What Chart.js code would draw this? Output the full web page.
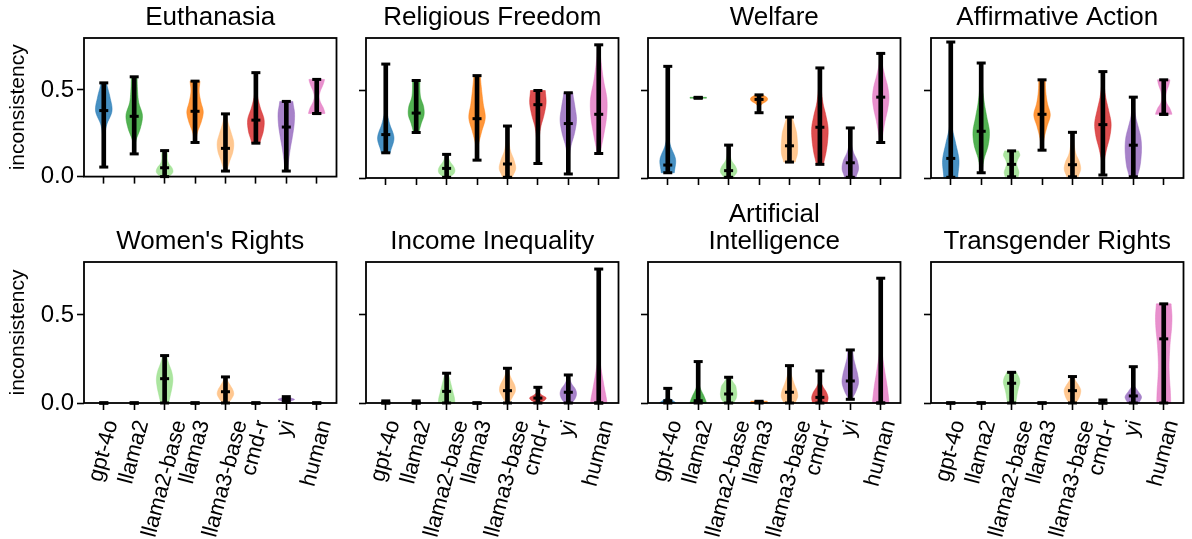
<!DOCTYPE html>
<html>
<head>
<meta charset="utf-8">
<script src="https://cdn.jsdelivr.net/npm/chart.js@4.4.1/dist/chart.umd.min.js"></script>
<style>
    body { margin: 0; background: #fff; }
    #fig { position: relative; width: 1192px; height: 539px; overflow: hidden; background: #fff; }
    #fig canvas { position: absolute; }
</style>
</head>
<body>
<div id="fig"></div>
<script>
const models = ['gpt-4o', 'llama2', 'llama2-base', 'llama3', 'llama3-base', 'cmd-r', 'yi', 'human'];
const topics = ['Euthanasia', 'Religious Freedom', 'Welfare', 'Affirmative Action',
    "Women's Rights", 'Income Inequality', ['Artificial', 'Intelligence'], 'Transgender Rights'];
const yTicks = [0, 0.5];

// one row per topic, one value per model
const lows = [
    [0.055, 0.131, 0.0, 0.197, 0.032, 0.193, 0.032, 0.364],
    [0.144, 0.26, 0.004, 0.102, 0.004, 0.083, 0.023, 0.14],
    [0.03, 0.456, 0.004, 0.373, 0.091, 0.078, 0.004, 0.203],
    [0.004, 0.03, 0.007, 0.159, 0.007, 0.017, 0.007, 0.364],
    [0, 0, 0, 0, 0, 0, 0.004, 0],
    [0, 0, 0, 0, 0, 0, 0, 0],
    [0, 0, 0, 0, 0, 0, 0.021, 0],
    [0, 0, 0, 0, 0, 0, 0, 0]
];
const highs = [
    [0.541, 0.576, 0.15, 0.551, 0.362, 0.60, 0.434, 0.561],
    [0.651, 0.557, 0.135, 0.585, 0.297, 0.5, 0.487, 0.761],
    [0.638, 0.461, 0.188, 0.475, 0.348, 0.629, 0.286, 0.712],
    [0.777, 0.657, 0.155, 0.561, 0.261, 0.608, 0.462, 0.561],
    [0, 0, 0.269, 0, 0.148, 0, 0.036, 0],
    [0.012, 0.012, 0.169, 0, 0.197, 0.089, 0.159, 0.76],
    [0.083, 0.235, 0.146, 0.01, 0.212, 0.182, 0.301, 0.708],
    [0, 0, 0.174, 0, 0.15, 0.017, 0.206, 0.5625]
];
const medians = [
    [0.381, 0.348, 0.051, 0.377, 0.163, 0.326, 0.286, 0.364],
    [0.248, 0.371, 0.055, 0.339, 0.08, 0.419, 0.311, 0.364],
    [0.074, 0.458, 0.042, 0.449, 0.184, 0.29, 0.087, 0.462],
    [0.112, 0.267, 0.078, 0.364, 0.076, 0.305, 0.1875, 0.364],
    [0, 0, 0.138, 0, 0.064, 0, 0.02, 0],
    [0, 0, 0.066, 0, 0.07, 0.028, 0.061, 0],
    [0.013, 0.013, 0.051, 0.005, 0.061, 0.032, 0.125, 0],
    [0, 0, 0.112, 0, 0.07, 0, 0.04, 0.364]
];
// relative violin widths, evenly spaced from low to high
const density = [
    [[0.03, 0.05, 0.1, 0.35, 1.0, 0.75, 0.35], [0.05, 0.2, 0.75, 1.0, 0.55, 0.4, 0.35], [0.6, 1.0, 0.9, 0.5, 0.35, 0.35, 0.3],
     [0.1, 0.3, 0.75, 1.0, 0.7, 0.5, 0.6], [0.2, 0.5, 0.9, 1.0, 0.7, 0.35, 0.15], [0.5, 0.9, 1.0, 0.55, 0.2, 0.12, 0.12],
     [0.15, 0.3, 0.5, 0.75, 0.95, 1.0, 0.8], [1.0, 0.8, 0.45, 0.3, 0.45, 0.75, 0.95]],
    [[0.55, 1.0, 0.45, 0.06, 0.02, 0.02, 0.02], [0.35, 0.6, 0.95, 0.9, 0.55, 0.45, 0.45], [0.4, 0.9, 1.0, 0.8, 0.45, 0.25, 0.15],
     [0.05, 0.15, 0.55, 1.0, 0.75, 0.55, 0.4], [0.6, 1.0, 0.8, 0.4, 0.2, 0.1, 0.08], [0.05, 0.08, 0.15, 0.35, 0.75, 1.0, 0.9],
     [0.03, 0.08, 0.3, 0.75, 1.0, 0.8, 0.55], [0.2, 0.6, 0.95, 1.0, 0.6, 0.3, 0.1]],
    [[0.8, 0.95, 0.35, 0.03, 0.02, 0.02, 0.02, 0.02, 0.02], [1, 1], [0.6, 1.0, 0.85, 0.4, 0.2, 0.1, 0.05],
     [0.05, 0.08, 0.12, 0.4, 0.95, 1.0, 0.5], [0.7, 0.95, 1.0, 0.95, 0.85, 0.6, 0.35],
     [0.45, 0.75, 0.95, 1.0, 0.75, 0.4, 0.2, 0.1, 0.05], [0.7, 1.0, 0.85, 0.4, 0.15, 0.08, 0.05],
     [0.1, 0.3, 0.55, 0.85, 1.0, 0.85, 0.5, 0.2, 0.05]],
    [[0.85, 1.0, 0.6, 0.15, 0.03, 0.02, 0.02, 0.02, 0.02], [0.1, 0.35, 0.85, 1.0, 0.7, 0.4, 0.2, 0.1, 0.05],
     [0.8, 0.9, 0.75, 0.6, 0.75, 1.0, 0.85], [0.1, 0.25, 0.6, 1.0, 0.65, 0.45, 0.4], [0.7, 1.0, 0.85, 0.45, 0.25, 0.12, 0.06],
     [0.05, 0.15, 0.45, 0.85, 1.0, 0.7, 0.35, 0.15, 0.08], [0.5, 0.8, 0.95, 1.0, 0.9, 0.6, 0.3, 0.15, 0.08],
     [1.0, 0.75, 0.35, 0.25, 0.35, 0.6, 0.75]],
    [[], [], [0.5, 0.7, 0.9, 1.0, 0.85, 0.5, 0.25], [], [0.4, 0.75, 1.0, 0.9, 0.6, 0.3, 0.15], [],
     [0.2, 0.6, 1.0, 0.6, 0.2], []],
    [[], [], [1.0, 0.95, 0.8, 0.65, 0.5, 0.35, 0.2], [], [0.25, 0.6, 0.95, 0.9, 0.55, 0.25, 0.1],
     [0.3, 0.8, 1.0, 0.5, 0.15, 0.08, 0.05], [0.5, 0.85, 1.0, 0.85, 0.45, 0.2, 0.1],
     [1.0, 0.65, 0.3, 0.03, 0.02, 0.02, 0.02, 0.02, 0.02]],
    [[1.0, 0.6, 0.2, 0.06, 0.03, 0.02, 0.02], [1.0, 0.7, 0.3, 0.06, 0.02, 0.02, 0.02], [0.6, 0.9, 1.0, 0.95, 0.85, 0.5, 0.25],
     [1, 1], [0.7, 1.0, 0.9, 0.6, 0.35, 0.15, 0.05], [0.9, 1.0, 0.8, 0.4, 0.12, 0.04, 0.02],
     [0.25, 0.7, 1.0, 0.9, 0.65, 0.4, 0.3], [1.0, 0.8, 0.5, 0.22, 0.03, 0.02, 0.02, 0.02, 0.02]],
    [[], [], [0.5, 0.6, 0.7, 0.85, 1.0, 0.9, 0.6], [], [0.45, 0.75, 0.95, 1.0, 0.75, 0.4, 0.2], [],
     [0.7, 1.0, 0.55, 0.08, 0.03, 0.02, 0.02], [0.85, 0.8, 0.7, 0.65, 0.7, 0.8, 0.95, 1.0, 0.9]]
];

const colors = ['#1f77b4', '#2ca02c', '#98df8a', '#ff7f0e', '#ffbb78', '#d62728', '#9467bd', '#e377c2'];
const FONT = '"Liberation Sans", Arial, Helvetica, sans-serif';
Chart.defaults.font.family = FONT;
Chart.defaults.color = '#000';

function rgba(hex, a) {
    let n = parseInt(hex.slice(1), 16);
    return `rgba(${n >> 16},${(n >> 8) & 255},${n & 255},${a})`;
}

// catmull-rom upsampling of the width profile
function smooth(p, steps) {
    if (p.length < 3) return p.slice();
    let out = [];
    for (let k = 0; k < p.length - 1; k++) {
        let p0 = p[Math.max(k - 1, 0)], p1 = p[k], p2 = p[k + 1], p3 = p[Math.min(k + 2, p.length - 1)];
        for (let s = 0; s < steps; s++) {
            let t = s / steps;
            let v = 0.5 * ((2 * p1) + (-p0 + p2) * t + (2 * p0 - 5 * p1 + 4 * p2 - p3) * t * t + (-p0 + 3 * p1 - 3 * p2 + p3) * t * t * t);
            out.push(Math.max(v, 0.01));
        }
    }
    out.push(p[p.length - 1]);
    return out;
}

const violinPlugin = {
    id: 'violins',
    beforeDatasetsDraw(chart, args, opts) {
        let t = opts.topic, xs = chart.scales.x, ys = chart.scales.y, ctx = chart.ctx;
        models.forEach(function (m, i) {
            let d = density[t][i];
            if (!d.length) return;
            let lo = lows[t][i], hi = highs[t][i];
            let w = smooth(d, 8);
            let cx = xs.getPixelForValue(i + 1);
            let hw = xs.getPixelForValue(i + 1 + 0.27) - cx;
            let yAt = k => ys.getPixelForValue(lo + (hi - lo) * k / (w.length - 1));
            ctx.save();
            ctx.beginPath();
            for (let k = 0; k < w.length; k++) ctx.lineTo(cx + w[k] * hw, yAt(k));
            for (let k = w.length - 1; k >= 0; k--) ctx.lineTo(cx - w[k] * hw, yAt(k));
            ctx.closePath();
            ctx.fillStyle = rgba(colors[i], 0.82);
            ctx.strokeStyle = rgba(colors[i], 0.6);
            ctx.lineWidth = 0.8;
            ctx.fill();
            ctx.stroke();
            ctx.restore();
        });
    }
};

const framePlugin = {
    id: 'frame',
    afterDraw(chart, args, opts) {
        let a = chart.chartArea, ctx = chart.ctx;
        ctx.save();
        ctx.strokeStyle = '#000';
        ctx.lineWidth = 1.8;
        ctx.strokeRect(a.left, a.top, a.right - a.left, a.bottom - a.top);

        // panel title
        let lines = [].concat(opts.title);
        ctx.fillStyle = '#000';
        ctx.font = `26px ${FONT}`;
        ctx.textAlign = 'center';
        ctx.textBaseline = 'alphabetic';
        lines.forEach(function (line, k) {
            ctx.fillText(line, (a.left + a.right) / 2, a.top - 13 - (lines.length - 1 - k) * 27);
        });

        // rotated model names under the bottom row
        if (opts.labels) {
            let xs = chart.scales.x, ang = 75 * Math.PI / 180, fs = 22;
            ctx.font = `${fs}px ${FONT}`;
            ctx.textBaseline = 'middle';
            models.forEach(function (m, i) {
                let w = ctx.measureText(m).width;
                let vert = w * Math.sin(ang) + fs * Math.cos(ang);
                ctx.save();
                ctx.translate(xs.getPixelForValue(i + 1), a.bottom + 15 + vert / 2);
                ctx.rotate(-ang);
                ctx.fillText(m, 0, 0);
                ctx.restore();
            });
        }
        ctx.restore();
    }
};

const boxLefts = [84, 366, 648, 931];
const boxW = 256;

function makePanel(t) {
    let col = t % 4, bottomRow = t >= 4, first = col === 0;
    let W = first ? 84 : 14, R = 4;
    let padTop = bottomRow ? 70 : 38;
    let boxH = bottomRow ? 141 : 140;
    let H = bottomRow ? 136 : 16;
    let canvas = document.createElement('canvas');
    canvas.width = W + boxW + R;
    canvas.height = padTop + boxH + H;
    canvas.style.left = (boxLefts[col] - W) + 'px';
    canvas.style.top = (bottomRow ? 192 : 0) + 'px';
    document.getElementById('fig').appendChild(canvas);

    let capData = [], medData = [];
    models.forEach(function (m, i) {
        capData.push({x: i + 1, y: lows[t][i]}, {x: i + 1, y: highs[t][i]});
        medData.push({x: i + 1, y: medians[t][i]});
    });
    let point = {
        type: 'scatter', pointStyle: 'line', pointRadius: 4.5, pointBorderWidth: 3,
        pointBorderColor: '#000', pointBackgroundColor: '#000', clip: false
    };

    new Chart(canvas, {
        type: 'bar',
        data: {
            datasets: [
                Object.assign({data: medData, order: 0}, point),
                Object.assign({data: capData, order: 1}, point),
                {
                    type: 'bar', order: 2, clip: false, backgroundColor: '#000', barThickness: 4,
                    data: models.map((m, i) => ({x: i + 1, y: [lows[t][i], highs[t][i]]}))
                }
            ]
        },
        options: {
            responsive: false,
            animation: false,
            events: [],
            layout: {padding: {top: padTop, right: R, left: 0, bottom: 0}},
            plugins: {
                legend: {display: false},
                tooltip: {enabled: false},
                violins: {topic: t},
                frame: {title: topics[t], labels: bottomRow}
            },
            scales: {
                x: {
                    type: 'linear', min: 0.35, max: 8.65, offset: false,
                    afterBuildTicks: s => { s.ticks = models.map((m, i) => ({value: i + 1})); },
                    afterFit: s => { s.height = H; },
                    ticks: {display: false},
                    grid: {offset: false, drawOnChartArea: false, tickLength: 7, tickColor: '#000', tickWidth: 1.6},
                    border: {display: false}
                },
                y: {
                    min: 0, max: 0.8,
                    afterBuildTicks: s => { s.ticks = yTicks.map(v => ({value: v})); },
                    afterFit: s => { s.width = W; },
                    ticks: {display: first, callback: v => v.toFixed(1), color: '#000', font: {size: 24}, padding: 3},
                    grid: {drawOnChartArea: false, tickLength: 7, tickColor: '#000', tickWidth: 1.6},
                    border: {display: false},
                    title: {
                        display: first, text: 'inconsistency', color: '#000',
                        font: {size: 21}, padding: {top: 6, bottom: 0}
                    }
                }
            }
        },
        plugins: [violinPlugin, framePlugin]
    });
}

topics.forEach((name, t) => makePanel(t));
</script>
</body>
</html>
